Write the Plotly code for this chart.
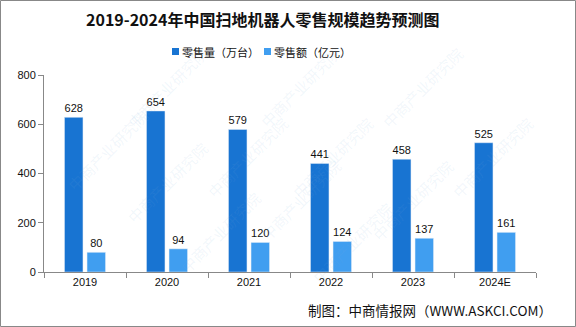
import plotly.graph_objects as go

categories = ["2019", "2020", "2021", "2022", "2023", "2024E"]
volume = [628, 654, 579, 441, 458, 525]
sales = [80, 94, 120, 124, 137, 161]
y_ticks = [0, 200, 400, 600, 800]
series_names = ["零售量（万台）", "零售额（亿元）"]
colors = ["#1874D2", "#409EF0"]

W, H = 576, 327
L, R, T, B = 44, 40, 75, 55
pw, ph = W - L - R, H - T - B

def px(x):
    return (x - L) / pw

def py(y):
    return (H - B - y) / ph

fig = go.Figure()
for vals, name, col in zip([volume, sales], series_names, colors):
    fig.add_bar(x=categories, y=vals, name=name, marker_color=col,
                text=vals, textposition="outside", textfont=dict(size=11, color="#111"),
                cliponaxis=False, showlegend=False)

# watermarks
wm_pos = [(120, 40), (300, 40), (470, 40), (60, 150), (200, 110), (380, 110), (540, 110),
          (120, 230), (300, 200), (460, 200), (220, 280), (400, 290)]
for (x, y) in wm_pos:
    fig.add_annotation(x=px(x), y=py(y), xref="paper", yref="paper", text="中商产业研究院",
                       showarrow=False, textangle=-45,
                       font=dict(size=15, color="rgba(120,170,220,0.10)",
                                 family="Noto Sans CJK SC"))

fig.add_annotation(x=px(262), y=py(19), xref="paper", yref="paper", yanchor="middle",
                   text="<b>2019-2024年中国扫地机器人零售规模趋势预测图</b>",
                   showarrow=False, font=dict(size=16, color="#111", family="Noto Sans CJK SC"))
fig.add_annotation(x=px(306), y=py(310), xref="paper", yref="paper", xanchor="left",
                   yanchor="middle", text="制图：中商情报网（WWW.ASKCI.COM）",
                   showarrow=False, font=dict(size=13.5, color="#111", family="Noto Sans CJK SC"))

# manual legend
leg_x = [172, 264]
for lx, name, col in zip(leg_x, series_names, colors):
    fig.add_shape(type="rect", xref="paper", yref="paper",
                  x0=px(lx), x1=px(lx + 7), y0=py(55), y1=py(48),
                  fillcolor=col, line=dict(width=0))
    fig.add_annotation(x=px(lx + 8), y=py(52), xref="paper", yref="paper",
                       xanchor="left", yanchor="middle", text=name, showarrow=False,
                       font=dict(size=11, color="#111", family="Noto Sans CJK SC"))

fig.add_shape(type="rect", xref="paper", yref="paper",
              x0=px(0.5), x1=px(575.5), y0=py(0.5), y1=py(326.5),
              line=dict(color="#888", width=1))

fig.update_layout(
    width=W, height=H,
    margin=dict(l=L, r=R, t=T, b=B),
    paper_bgcolor="white", plot_bgcolor="white",
    barmode="group", bargap=0.45, bargroupgap=0.18,
    font=dict(family="Liberation Sans, Noto Sans CJK SC", size=11, color="#111"),
    showlegend=False,
)
fig.update_xaxes(showline=True, linecolor="#888", linewidth=1, ticks="outside",
                 tickson="boundaries", ticklen=5, tickcolor="#888",
                 tickfont=dict(size=11), showgrid=False)
fig.update_yaxes(range=[0, 800], tickvals=y_ticks, showline=True, linecolor="#888",
                 linewidth=1, ticks="outside", ticklen=5, tickcolor="#888",
                 showgrid=False, zeroline=False, tickfont=dict(size=11))

fig.write_html("out.html")
